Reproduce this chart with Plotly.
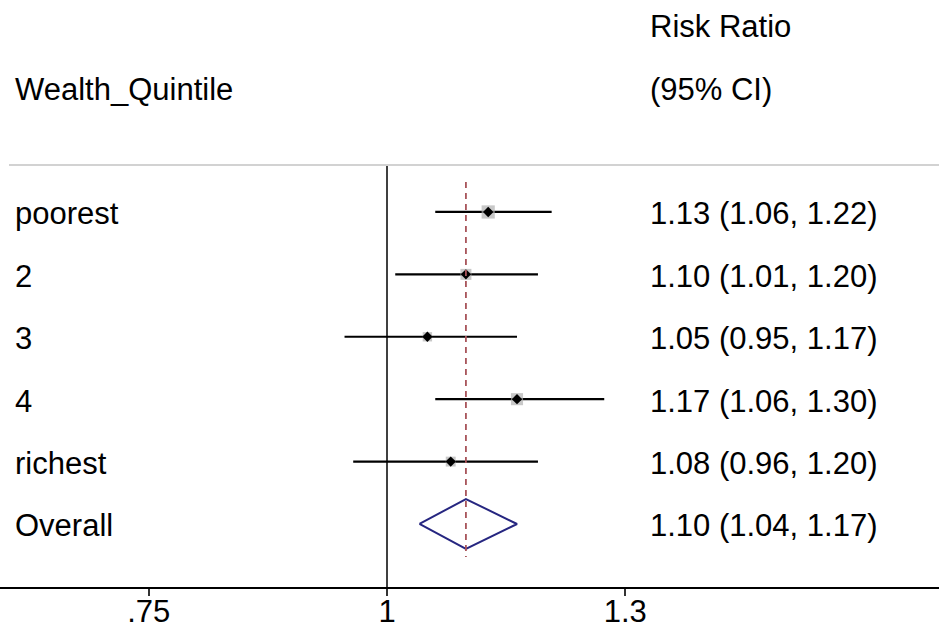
import math
import plotly.graph_objects as go

# ---- data ----
groups = ["poorest", "2", "3", "4", "richest"]
rr = [1.13, 1.10, 1.05, 1.17, 1.08]
ci_low = [1.06, 1.01, 0.95, 1.06, 0.96]
ci_high = [1.22, 1.20, 1.17, 1.30, 1.20]
weights = [24, 20, 17, 22, 18]  # approximate % weights (box sizes)
overall_label = "Overall"
overall_rr = 1.10
overall_low = 1.04
overall_high = 1.17
tick_vals = [0.75, 1.0, 1 / 0.75]
tick_text = [".75", "1", "1.3"]
header_left = "Wealth_Quintile"
header_right = ["Risk Ratio", "(95% CI)"]

FONT = "Liberation Sans, Arial, Helvetica, sans-serif"
FS = 31
YSHIFT = -2

n = len(groups)
ys = [-i for i in range(n)]
y_overall = -n

fig = go.Figure()

# CI lines
cx, cy = [], []
for lo, hi, y in zip(ci_low, ci_high, ys):
    cx += [lo, hi, None]
    cy += [y, y, None]
fig.add_trace(go.Scatter(x=cx, y=cy, mode="lines",
                         line=dict(color="black", width=2.2), hoverinfo="skip"))

# weight boxes
fig.add_trace(go.Scatter(x=rr, y=ys, mode="markers",
                         marker=dict(symbol="square", color="#b0b0b0",
                                     size=[w * 0.55 for w in weights], line=dict(width=0))))
# point estimates
fig.add_trace(go.Scatter(x=rr, y=ys, mode="markers",
                         marker=dict(symbol="diamond", color="black", size=8)))

# overall diamond
h = 0.4
fig.add_trace(go.Scatter(
    x=[overall_low, overall_rr, overall_high, overall_rr, overall_low],
    y=[y_overall, y_overall + h, y_overall, y_overall - h, y_overall],
    mode="lines", line=dict(color="#262680", width=2), hoverinfo="skip"))

# vertical line at null (1)
fig.add_trace(go.Scatter(x=[1, 1], y=[0.753, -6.02], mode="lines",
                         line=dict(color="black", width=1.5), hoverinfo="skip"))
# dashed line at overall estimate
fig.add_trace(go.Scatter(x=[overall_rr, overall_rr], y=[0.48, -5.53], mode="lines",
                         line=dict(color="#a8545a", width=1.8, dash="6px,5px"), hoverinfo="skip"))

# top separator line
fig.add_shape(type="line", xref="paper", yref="y", x0=9 / 939, x1=1, y0=0.753, y1=0.753,
              line=dict(color="#d2d2d2", width=2))

# text annotations
labels = groups + [overall_label]
ests = list(zip(rr, ci_low, ci_high)) + [(overall_rr, overall_low, overall_high)]
all_y = ys + [y_overall]
LX = 13 / 939
RX = 648 / 939


def ann(x, y, text):
    fig.add_annotation(x=x, y=y, xref="paper", yref="y", text=text,
                       showarrow=False, xanchor="left", yanchor="middle", yshift=YSHIFT,
                       font=dict(family=FONT, size=FS, color="black"))


for lab, (e, lo, hi), y in zip(labels, ests, all_y):
    ann(LX, y, lab)
    ann(RX, y, f"{e:.2f} ({lo:.2f}, {hi:.2f})")

ann(LX, 2, header_left)
ann(RX, 3, header_right[0])
ann(RX, 2, header_right[1])

scale = 828.0
x0_px = 387.0
lo_r = math.log10(math.exp(-x0_px / scale))
hi_r = math.log10(math.exp((939 - x0_px) / scale))

fig.update_layout(
    width=939, height=630,
    margin=dict(l=0, r=0, t=0, b=43),
    plot_bgcolor="white", paper_bgcolor="white",
    showlegend=False,
    xaxis=dict(type="log", range=[lo_r, hi_r], tickvals=tick_vals, ticktext=tick_text,
               automargin=False, ticklabelstandoff=-11,
               showgrid=False, zeroline=False, showline=True, linecolor="black", linewidth=1.5,
               ticks="outside", ticklen=7, tickwidth=1.5, tickcolor="#333",
               tickfont=dict(family=FONT, size=FS, color="black")),
    yaxis=dict(range=[-6.01, 3.397], visible=False, showgrid=False, zeroline=False,
               automargin=False),
)

fig.write_html("out.html", config={"displayModeBar": False},
               post_script="document.body.style.margin='0';document.body.style.overflow='hidden';")
